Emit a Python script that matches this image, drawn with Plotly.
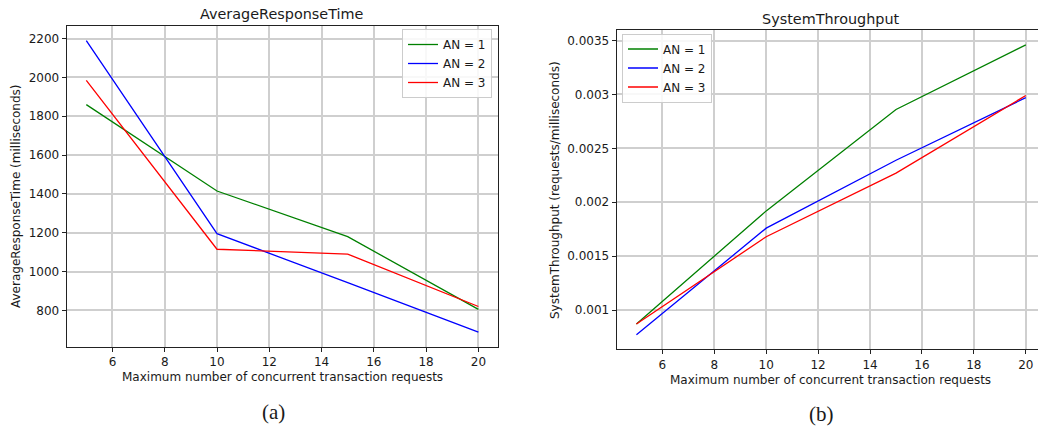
import plotly.graph_objects as go

# ---- data ----
x_requests = [5, 10, 15, 20]
series_names = ["AN = 1", "AN = 2", "AN = 3"]
series_colors = ["#008000", "#0000ff", "#ff0000"]

resp_an1 = [1860, 1415, 1180, 805]
resp_an2 = [2190, 1195, 943, 688]
resp_an3 = [1985, 1115, 1090, 820]

thr_an1 = [0.00087, 0.00192, 0.00286, 0.00346]
thr_an2 = [0.00077, 0.00176, 0.00239, 0.00297]
thr_an3 = [0.00087, 0.00168, 0.00227, 0.00299]

x_ticks = [6, 8, 10, 12, 14, 16, 18, 20]
resp_ticks = [800, 1000, 1200, 1400, 1600, 1800, 2000, 2200]
thr_ticks = [0.001, 0.0015, 0.002, 0.0025, 0.003, 0.0035]
thr_tick_labels = ["0.001", "0.0015", "0.002", "0.0025", "0.003", "0.0035"]

W, H = 1038, 428
FONT = "DejaVu Sans"
TXT = "#1a1a1a"

fig = go.Figure()

for name, col, ys in zip(series_names, series_colors, [resp_an1, resp_an2, resp_an3]):
    fig.add_trace(go.Scatter(x=x_requests, y=ys, mode="lines", name=name,
                             line=dict(color=col, width=1.3),
                             xaxis="x", yaxis="y", legend="legend"))
for name, col, ys in zip(series_names, series_colors, [thr_an1, thr_an2, thr_an3]):
    fig.add_trace(go.Scatter(x=x_requests, y=ys, mode="lines", name=name,
                             line=dict(color=col, width=1.3),
                             xaxis="x2", yaxis="y2", legend="legend2"))

def px_x(p):
    return p / W

def px_y(p):
    return 1 - p / H

axis_common = dict(
    showgrid=True, gridcolor="#cfcfcf", gridwidth=1.6,
    ticks="outside", ticklen=4, tickwidth=1, tickcolor="#222",
    showline=True, linecolor="#222", linewidth=1.2,
    tickfont=dict(family=FONT, size=12, color=TXT),
    zeroline=False,
)

fig.update_layout(
    width=W, height=H,
    margin=dict(l=0, r=0, t=0, b=0),
    paper_bgcolor="white", plot_bgcolor="white",
    font=dict(family=FONT, size=12, color=TXT),
    xaxis=dict(domain=[px_x(66.7), px_x(498)], range=[4.25, 20.75],
               tickvals=x_ticks, anchor="y", mirror=True, **axis_common),
    yaxis=dict(domain=[px_y(346.7), px_y(26)], range=[613, 2265],
               tickvals=resp_ticks, anchor="x", mirror=True, **axis_common),
    xaxis2=dict(domain=[px_x(616.7), 1.0], range=[4.24, 20.47],
                tickvals=x_ticks, anchor="y2", mirror=True,
                ticklabeloverflow="allow", **axis_common),
    yaxis2=dict(domain=[px_y(349.3), px_y(30.3)], range=[0.000636, 0.003595],
                tickvals=thr_ticks, ticktext=thr_tick_labels, anchor="x2",
                mirror=False, **axis_common),
    legend=dict(x=px_x(492), y=px_y(29), xanchor="right", yanchor="top",
                bgcolor="rgba(255,255,255,0.85)", bordercolor="#cccccc", borderwidth=1,
                font=dict(family=FONT, size=12, color=TXT), tracegroupgap=0,
                itemwidth=30),
    legend2=dict(x=px_x(622), y=px_y(33.5), xanchor="left", yanchor="top",
                 bgcolor="rgba(255,255,255,0.85)", bordercolor="#cccccc", borderwidth=1,
                 font=dict(family=FONT, size=12, color=TXT), tracegroupgap=0,
                 itemwidth=30),
    showlegend=True,
)

annotations = [
    dict(text="AverageResponseTime", x=px_x(282), y=px_y(14), font=dict(size=14.4)),
    dict(text="SystemThroughput", x=px_x(830.7), y=px_y(19), font=dict(size=14.4)),
    dict(text="Maximum number of concurrent transaction requests", x=px_x(282), y=px_y(377), font=dict(size=12)),
    dict(text="Maximum number of concurrent transaction requests", x=px_x(830.5), y=px_y(379.5), font=dict(size=12)),
    dict(text="AverageResponseTime (milliseconds)", x=px_x(16), y=px_y(196), textangle=-90, font=dict(size=12)),
    dict(text="SystemThroughput (requests/milliseconds)", x=px_x(555), y=px_y(190), textangle=-90, font=dict(size=12)),
    dict(text="(a)", x=px_x(273.7), y=px_y(411.5), font=dict(size=21, family="Liberation Serif")),
    dict(text="(b)", x=px_x(821.7), y=px_y(413.5), font=dict(size=21, family="Liberation Serif")),
]
for a in annotations:
    f = dict(family=FONT, color=TXT)
    f.update(a.pop("font"))
    fig.add_annotation(xref="paper", yref="paper", xanchor="center", yanchor="middle",
                       showarrow=False, font=f, **a)

fig.write_html("out.html", config={"displayModeBar": False},
               post_script="document.body.style.margin='0';document.body.style.padding='0';document.body.style.overflow='hidden';")
